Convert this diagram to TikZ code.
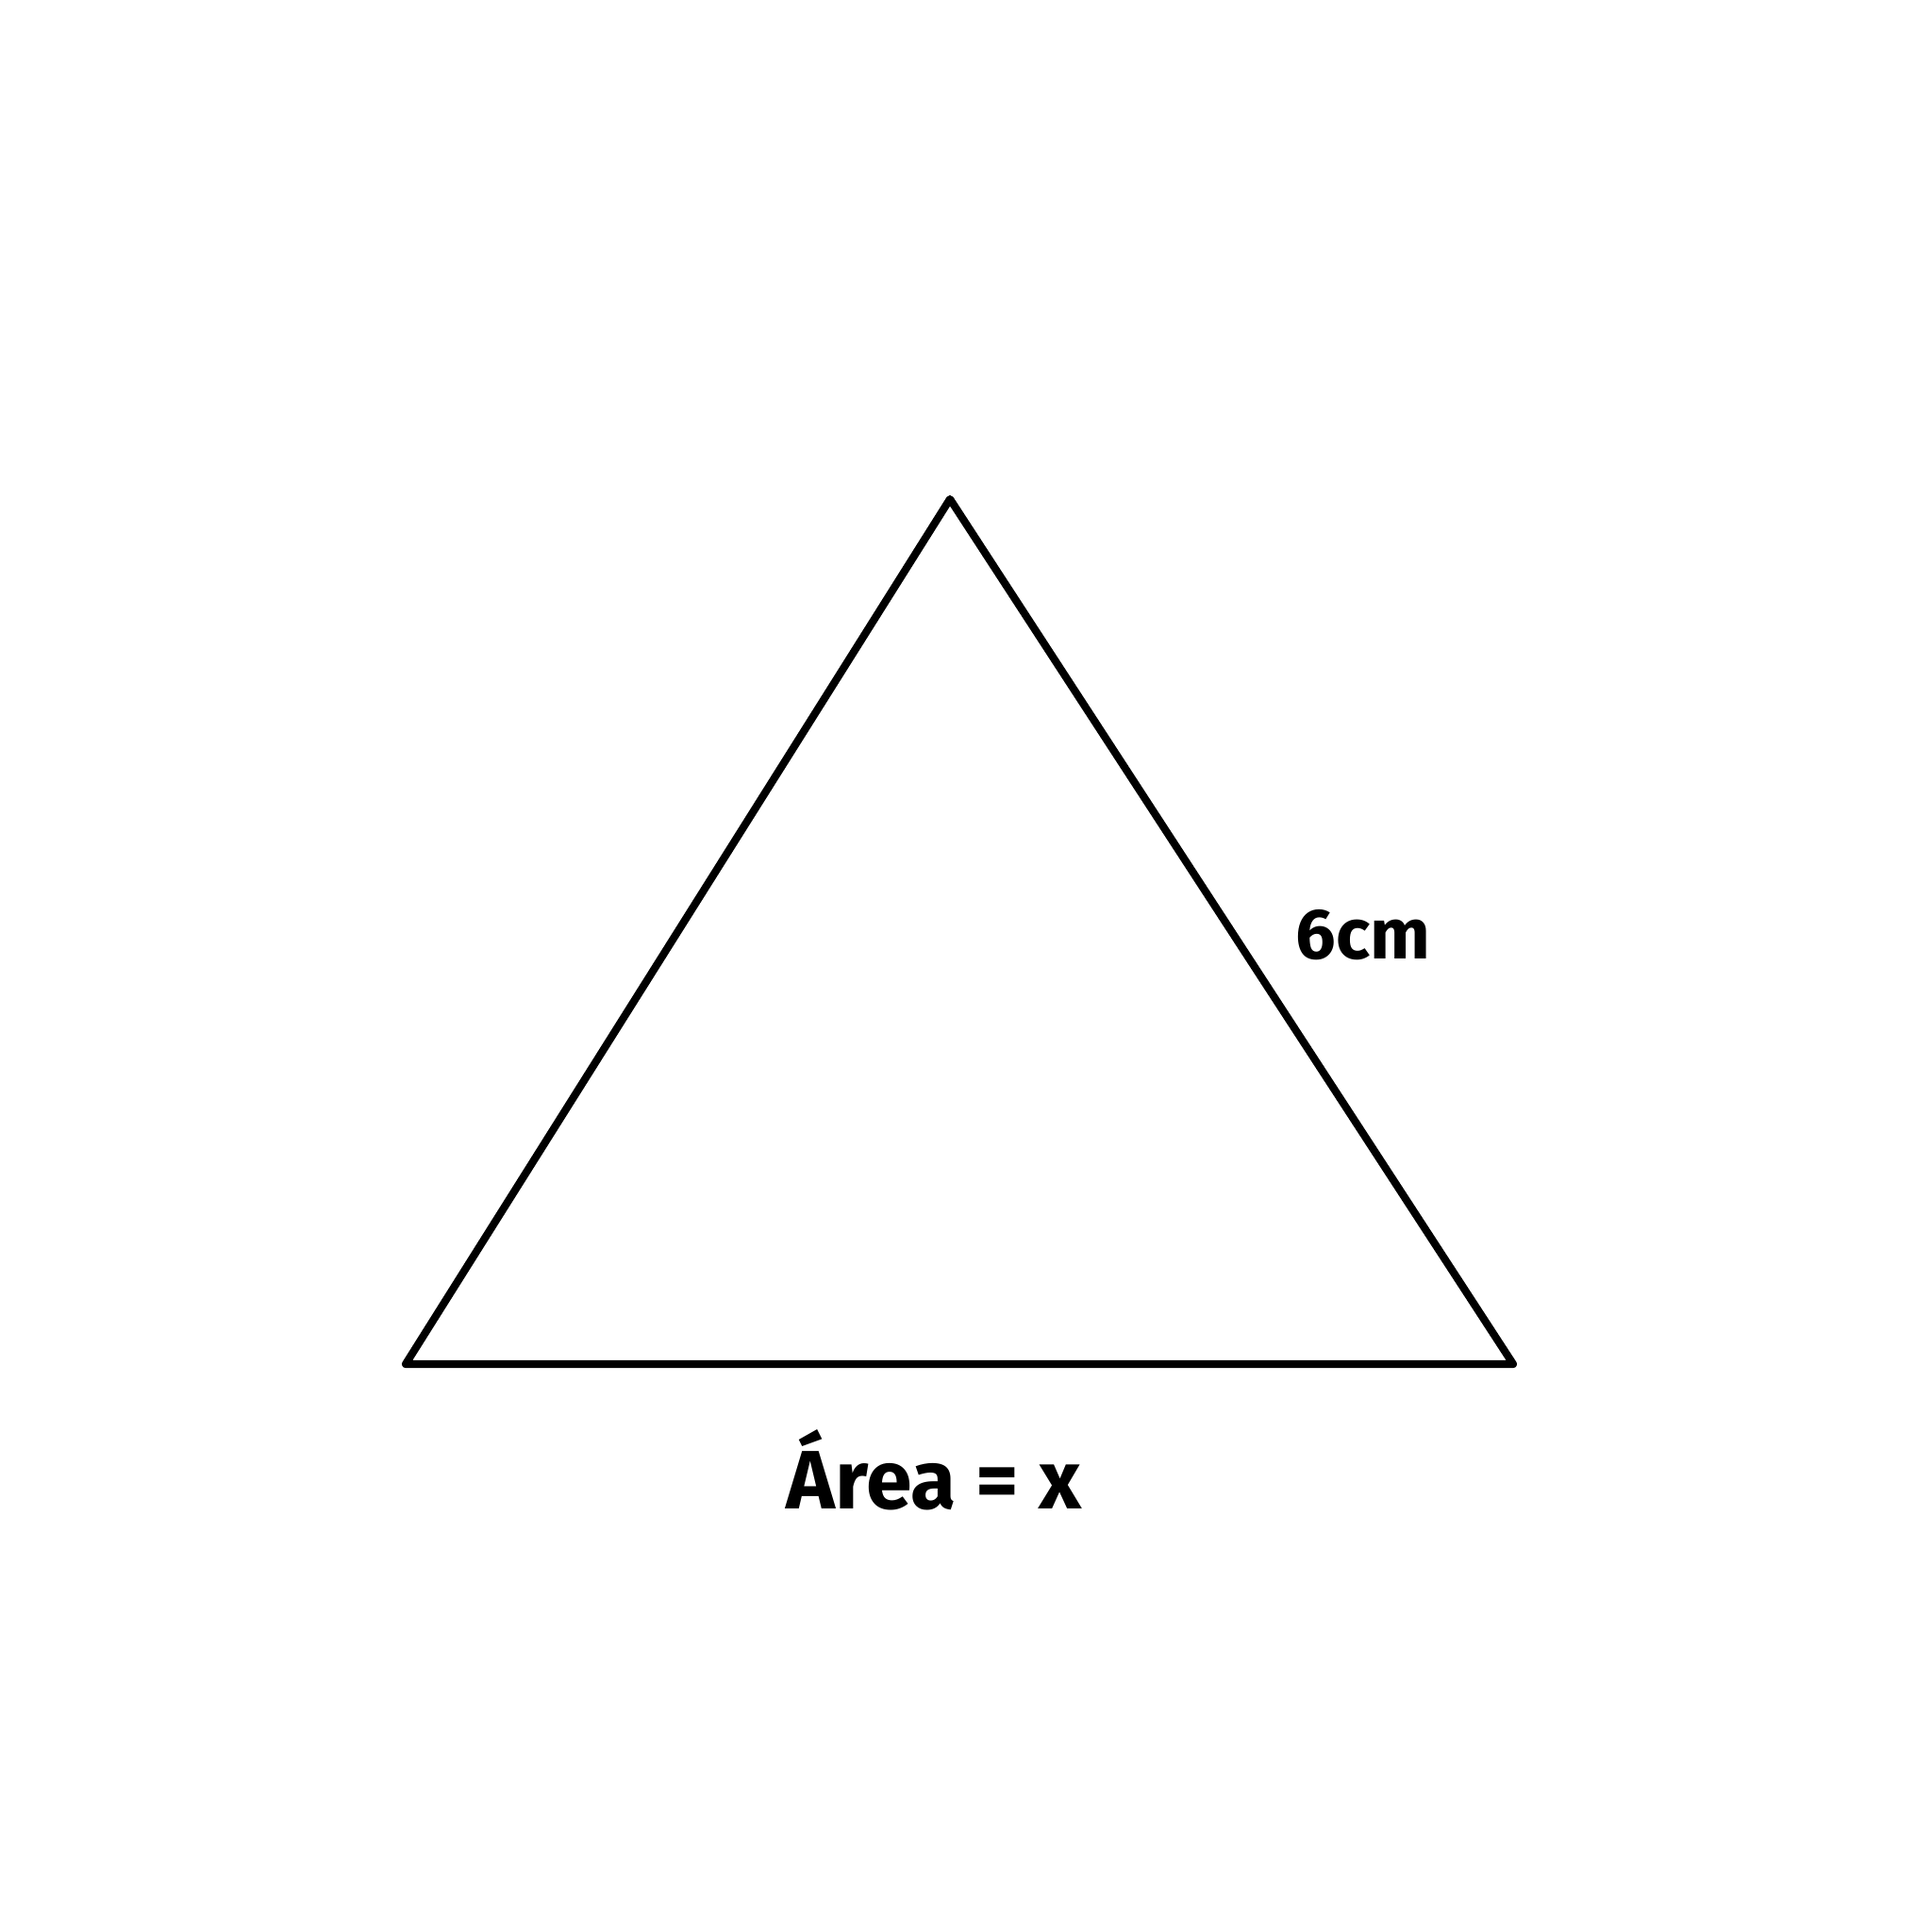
\documentclass[tikz,border=0pt]{standalone}
\usepackage{fontspec}
\setmainfont{Fira Sans}
\usepackage{tikz}
\usetikzlibrary{positioning, calc}

\begin{document}
\begin{tikzpicture}
        \useasboundingbox (0,0) rectangle (20.48,20.48);
        \coordinate (apex) at (10.07,15.19);
        \coordinate (baseL) at (4.30,6.02);
        \coordinate (baseR) at (16.04,6.02);
        
        \draw[line width=2.3pt, line join=round, line cap=round] (baseL) -- (apex) -- (baseR) -- cycle;
        
        \node[font=\bfseries\fontsize{21.5}{24}\selectfont] (side) at (14.45,10.57) {6cm};
        \node[font=\bfseries\fontsize{25}{28}\selectfont] (area) at (9.90,4.90) {Área = x};
    \end{tikzpicture}
\end{document}
